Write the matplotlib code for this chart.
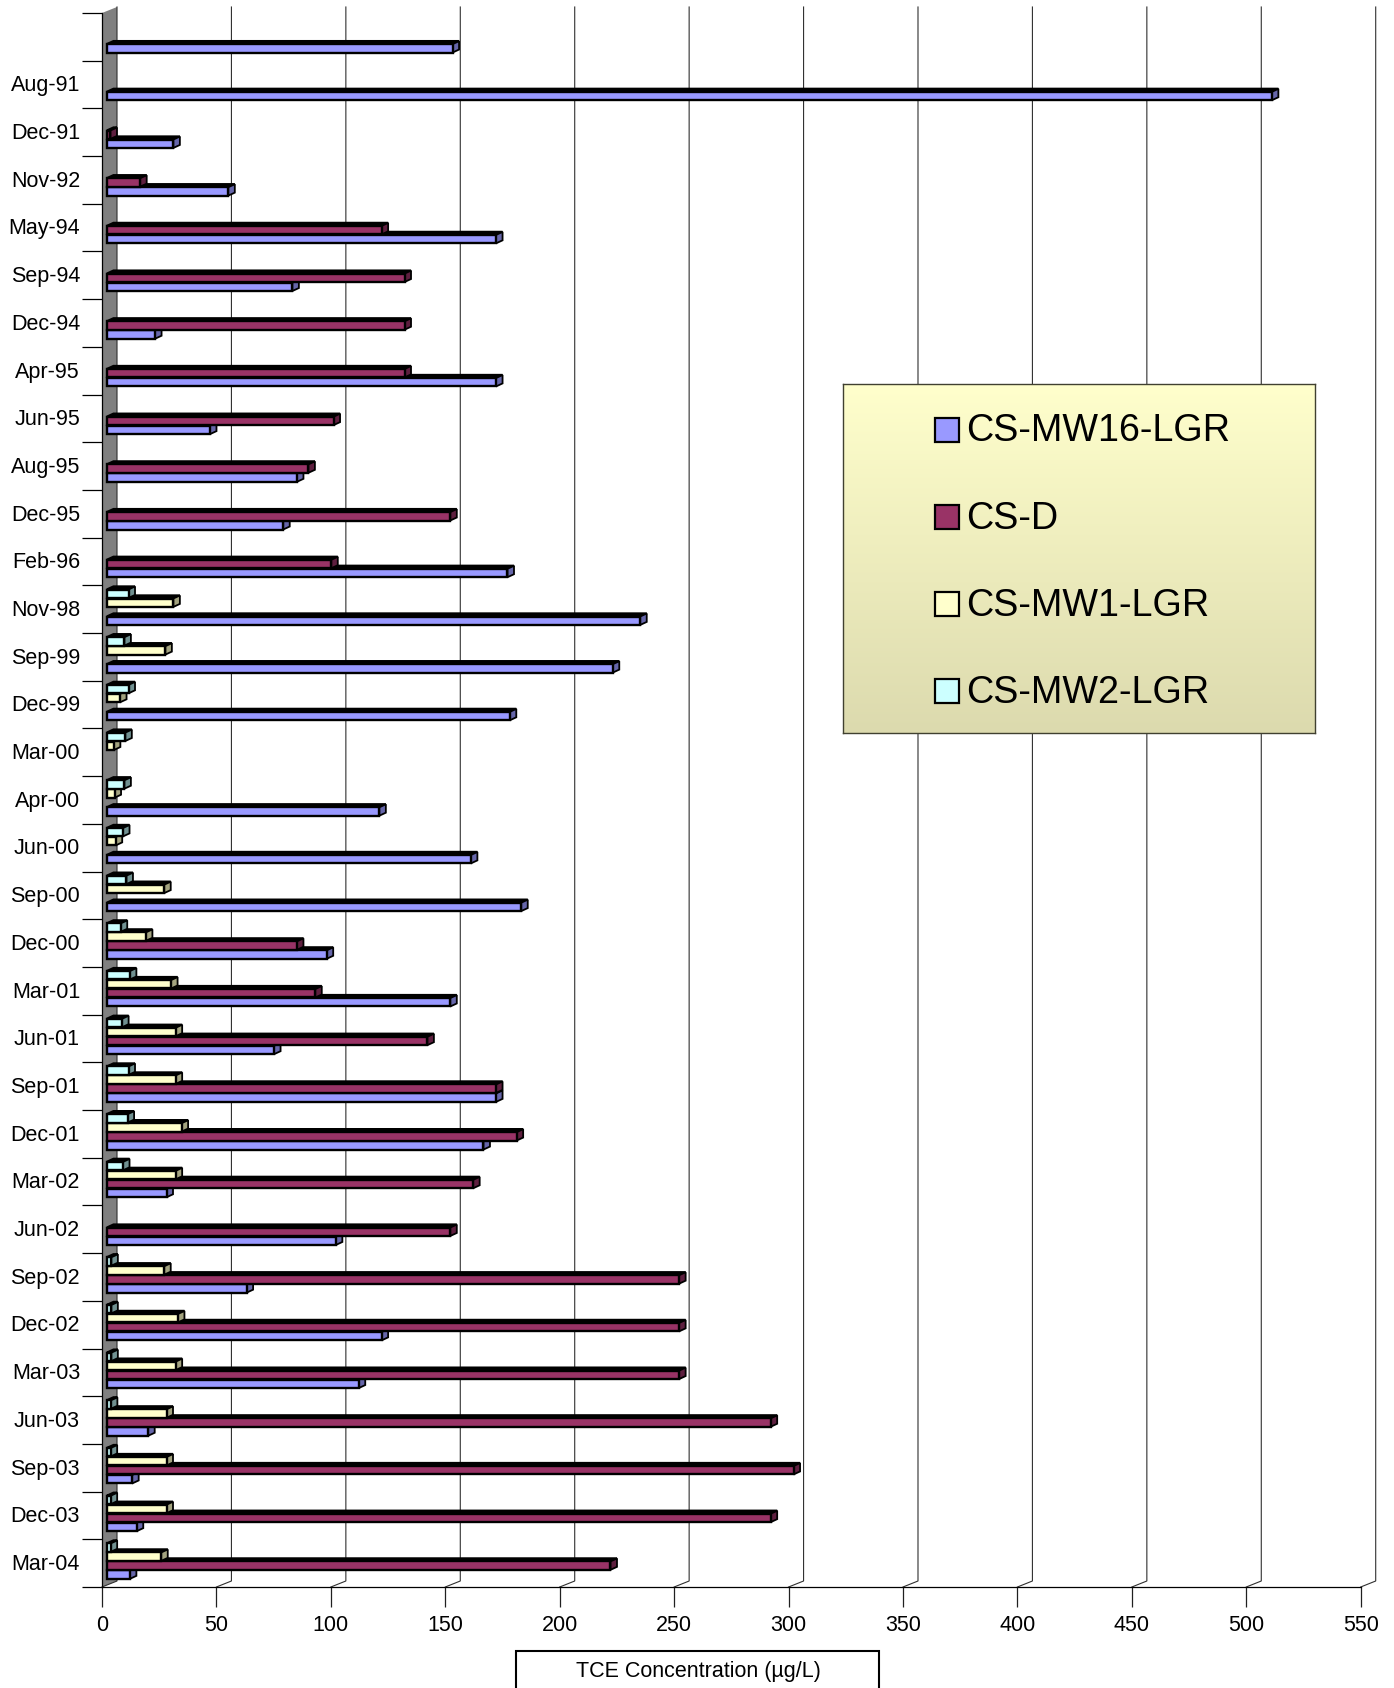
import numpy as np
import matplotlib
matplotlib.use("Agg")
import matplotlib.pyplot as plt
from matplotlib.patches import Rectangle

plt.rcParams['font.family'] = ['Liberation Sans', 'DejaVu Sans']

dates = ['', 'Aug-91', 'Dec-91', 'Nov-92', 'May-94', 'Sep-94', 'Dec-94', 'Apr-95', 'Jun-95',
         'Aug-95', 'Dec-95', 'Feb-96', 'Nov-98', 'Sep-99', 'Dec-99', 'Mar-00', 'Apr-00',
         'Jun-00', 'Sep-00', 'Dec-00', 'Mar-01', 'Jun-01', 'Sep-01', 'Dec-01', 'Mar-02',
         'Jun-02', 'Sep-02', 'Dec-02', 'Mar-03', 'Jun-03', 'Sep-03', 'Dec-03', 'Mar-04']

n = np.nan
mw16 = [151, 509, 29, 53, 170, 81, 21, 170, 45, 83, 77, 175, 233, 221, 176, n, 119,
        159, 181, 96, 150, 73, 170, 164.5, 26, 100, 61, 120, 110, 18, 11, 13, 10]
csd = [n, n, 1.5, 14.5, 120, 130, 130, 130, 99, 88, 150, 98, n, n, n, n, n,
       n, n, 83, 91, 140, 170, 179, 160, 150, 250, 250, 250, 290, 300, 290, 220]
mw1 = [n, n, n, n, n, n, n, n, n, n, n, n, 29, 25.5, 5.7, 3, 3.3,
       3.8, 25, 17, 28, 30, 30, 32.6, 30, n, 25, 31, 30, 26, 26, 26, 23.7]
mw2 = [n, n, n, n, n, n, n, n, n, n, n, n, 9.4, 7.6, 9.4, 8, 7.6,
       7, 8.5, 6, 10, 6.6, 9.4, 9, 7, n, 1.9, 1.9, 1.9, 1.7, 1.6, 1.6, 1.6]

series = [('CS-MW16-LGR', mw16, '#9999FF', '#6666AA'),
          ('CS-D', csd, '#993366', '#5E1F3F'),
          ('CS-MW1-LGR', mw1, '#FFFFCC', '#A3A37F'),
          ('CS-MW2-LGR', mw2, '#CCFFFF', '#709090')]

W, H = 1394, 1688
x_to_px = 2.288
y_to_px = 47.7

fig = plt.figure(figsize=(W / 100, H / 100), dpi=100, facecolor='white')
ax = fig.add_axes([102 / W, 1 - 1587 / H, 1258.7 / W, 1574 / H])
ax.set_xlim(0, 550)
ax.set_ylim(33, 0)

# depth of the fake 3d wall and of the bars, in data units
wall_dx = 15 / x_to_px
wall_dy = 6 / y_to_px
bar_dx = 6.5 / x_to_px
bar_dy = 3 / y_to_px
inset = 5 / x_to_px
bar_h = 8.4 / y_to_px
pitch = 9 / y_to_px

ax.fill([0, wall_dx, wall_dx, 0], [33, 33 - wall_dy, -wall_dy, 0],
        color='#808080', clip_on=False, zorder=1, lw=0)

xticks = np.arange(0, 551, 50)
for v in xticks:
    ax.plot([v, v + wall_dx, v + wall_dx], [33, 33 - wall_dy, -wall_dy],
            color='#303030', lw=0.8, clip_on=False, zorder=2)

y = np.arange(len(dates)) + 0.5
# upper rows cover the top band of the row below, so blue goes first
for k in [0, 1, 2, 3]:
    name, vals, col, dark = series[k]
    vals = np.array(vals, dtype=float)
    yc = y + 11.5 / y_to_px - k * pitch
    z = 3 + k
    for v, yy in zip(vals, yc):
        if np.isnan(v):
            continue
        x0, x1 = inset, inset + v
        y0, y1 = yy - bar_h / 2, yy + bar_h / 2
        ax.fill([x0, x0 + bar_dx, x1 + bar_dx, x1], [y0, y0 - bar_dy, y0 - bar_dy, y0],
                facecolor='black', edgecolor='black', lw=1.7, zorder=z, clip_on=False)
        ax.fill([x1, x1 + bar_dx, x1 + bar_dx, x1], [y0, y0 - bar_dy, y1 - bar_dy, y1],
                facecolor=dark, edgecolor='black', lw=1.3, zorder=z, clip_on=False)
    ax.barh(yc, vals, height=bar_h, left=inset, color=col, edgecolor='black',
            linewidth=1.7, zorder=z, clip_on=False)

for s in ['top', 'right']:
    ax.spines[s].set_visible(False)
ax.spines['left'].set_linewidth(0.9)
ax.spines['bottom'].set_linewidth(0.9)

ax.set_xticks(xticks)
ax.tick_params(axis='x', length=14.4, width=0.9, labelsize=15.5, pad=6, color='#202020')
ax.set_yticks(np.arange(0, 34))
ax.set_yticklabels([])
ax.set_yticks(y - 1.2 / y_to_px, labels=dates, minor=True)
ax.tick_params(axis='y', which='major', length=14.4, width=0.9)
ax.tick_params(axis='y', which='minor', length=0, labelsize=15.5, pad=15.8)

# axis title sits in its own box, cut by the bottom edge like the original
fig.add_artist(Rectangle((515.5 / W, -0.01), 364 / W, 1 - 1651 / H + 0.01, transform=fig.transFigure,
                         facecolor='white', edgecolor='black', lw=1.5))
fig.text(698 / W, 1 - 1672 / H, 'TCE Concentration (µg/L)', ha='center', va='center', fontsize=15.5)

# legend box with vertical gradient
lx, ly, lw_, lh = 843, 384, 472, 349
lax = fig.add_axes([lx / W, 1 - (ly + lh) / H, lw_ / W, lh / H], zorder=10)
top = np.array([0xFF, 0xFF, 0xCC]) / 255
bot = np.array([0xDC, 0xDA, 0xAE]) / 255
grad = np.linspace(0, 1, 256)[:, None, None] * (bot - top) + top
lax.imshow(grad, aspect='auto', extent=[0, lw_, lh, 0])
lax.set_xlim(0, lw_)
lax.set_ylim(lh, 0)
lax.set_xticks([])
lax.set_yticks([])
for s in lax.spines.values():
    s.set_linewidth(1)
    s.set_color('#404030')
for i, (name, vals, col, dark) in enumerate(series):
    yc = 45.5 + i * 87.3
    lax.add_patch(Rectangle((92, yc - 12), 24, 24, facecolor=col, edgecolor='black', lw=1.6))
    lax.text(123, yc + 1.8, name, fontsize=27.2, va='center', ha='left', color='black')

fig.savefig('out.png', dpi=100)
